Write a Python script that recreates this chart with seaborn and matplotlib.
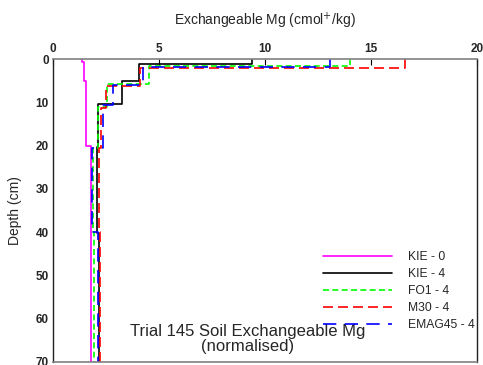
import numpy as np
import pandas as pd
import matplotlib
matplotlib.use("Agg")
import matplotlib.pyplot as plt
import seaborn as sns

# Layer boundaries (cm) and exchangeable Mg (cmol+/kg) for each treatment
kie0_depth = [0, 0.6, 5, 20, 70]
kie0_mg = [1.35, 1.48, 1.55, 1.80]

kie4_depth = [0, 1.1, 5.1, 10.3, 20.3, 40.2, 70]
kie4_mg = [9.40, 4.06, 3.25, 2.14, 2.09, 2.17]

fo1_depth = [0, 1.5, 5.8, 11.0, 20.5, 40.0, 70]
fo1_mg = [14.02, 4.54, 2.53, 2.14, 1.90, 1.95]

m30_depth = [0, 2.0, 6.1, 11.2, 20.5, 40.0, 70]
m30_mg = [16.60, 4.10, 2.48, 2.28, 2.18, 2.20]

emag_depth = [0, 1.8, 6.0, 10.6, 20.5, 40.0, 70]
emag_mg = [13.07, 4.23, 2.82, 2.37, 1.85, 2.11]

series_names = ["KIE - 0", "KIE - 4", "FO1 - 4", "M30 - 4", "EMAG45 - 4"]
series_depths = [kie0_depth, kie4_depth, fo1_depth, m30_depth, emag_depth]
series_values = [kie0_mg, kie4_mg, fo1_mg, m30_mg, emag_mg]

colors = ["#ff00ff", "#000000", "#00ff00", "#ff0000", "#0000ff"]
dash_styles = ["", "", (3.6, 2.0), (6.0, 3.0), (8.0, 5.0)]


def profile_rows(name, depths, values):
    """Expand layer values into the vertices of a stepped depth profile."""
    rows = []
    for i, v in enumerate(values):
        rows.append((name, v, depths[i]))
        rows.append((name, v, depths[i + 1]))
    return rows


records = []
for name, d, v in zip(series_names, series_depths, series_values):
    records.extend(profile_rows(name, d, v))
df = pd.DataFrame(records, columns=["series", "mg", "depth"])

sns.set_style("white")
plt.rcParams["font.family"] = ["Liberation Sans", "DejaVu Sans"]

fig = plt.figure(figsize=(4.83, 3.65), dpi=100)
ax = fig.add_axes([0.1097, 0.009, 0.8779, 0.8285])

sns.lineplot(
    data=df, x="mg", y="depth", hue="series", style="series",
    hue_order=series_names, style_order=series_names,
    palette=dict(zip(series_names, colors)),
    dashes=dict(zip(series_names, dash_styles)),
    sort=False, estimator=None, orient="y",
    linewidth=1.2, ax=ax,
)

ax.set_xlim(0, 20)
ax.set_ylim(70, 0)
ax.set_xticks([0, 5, 10, 15, 20])
ax.set_yticks(np.arange(0, 71, 10))
ax.xaxis.tick_top()
ax.xaxis.set_label_position("top")
ax.tick_params(axis="both", direction="in", length=4, width=0.8,
               labelsize=8.5, color="black", pad=3)
for lab in ax.get_xticklabels() + ax.get_yticklabels():
    lab.set_fontweight("bold")

ax.set_xlabel("Exchangeable Mg (cmol$^{+}$/kg)", fontsize=10, labelpad=13)
ax.set_ylabel("Depth (cm)", fontsize=10, labelpad=10)

for side in ["top", "bottom"]:
    ax.spines[side].set_color("#808080")
    ax.spines[side].set_linewidth(1.2)
for side in ["left", "right"]:
    ax.spines[side].set_color("#202020")
    ax.spines[side].set_linewidth(1.0)

leg = ax.legend(
    loc="upper left", bbox_to_anchor=(0.637, 0.366), frameon=False,
    borderaxespad=0, borderpad=0,
    fontsize=8.7, handlelength=5.7, handletextpad=1.3, labelspacing=0.42,
)
for line in leg.get_lines():
    line.set_linewidth(1.2)

ax.text(0.46, 0.075, "Trial 145 Soil Exchangeable Mg\n(normalised)",
        transform=ax.transAxes, ha="center", va="center",
        fontsize=12, linespacing=1.0)

fig.savefig("out.png", dpi=100)
